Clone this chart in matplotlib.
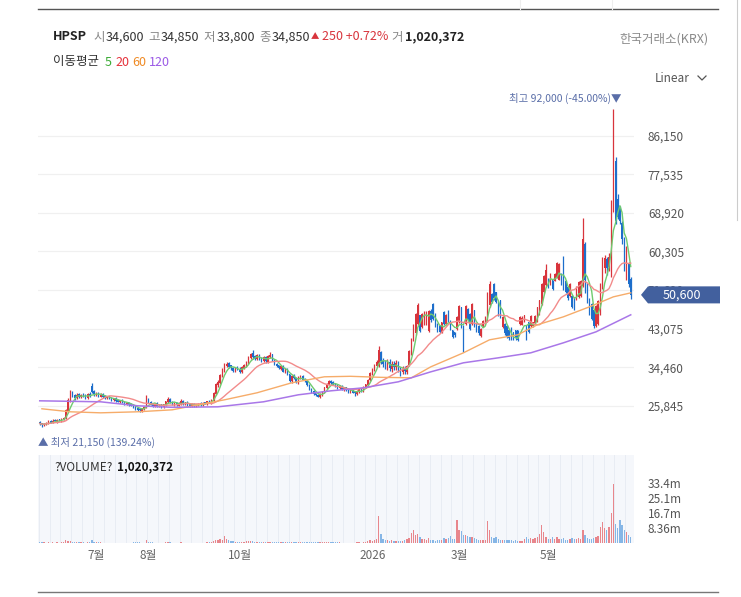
import numpy as np
import pandas as pd
import matplotlib
matplotlib.use("Agg")
import matplotlib.pyplot as plt
from matplotlib.patches import Polygon
from matplotlib.lines import Line2D
from matplotlib.transforms import blended_transform_factory

plt.rcParams['font.family'] = ['Noto Sans CJK KR', 'DejaVu Sans']

# daily candles, prices in thousand won
opens = [22.2, 21.9, 21.5, 21.8, 22.0, 22.4, 22.1, 22.6, 22.3, 22.8, 22.5, 22.8,
         23.1, 24.6, 27.0,
         28.8, 28.1, 27.5, 28.4, 27.8, 28.3, 28.1, 27.6, 28.5,
         30.2,
         29.1, 28.2, 28.7, 27.9, 28.4, 28.0, 27.5,
         27.9, 27.6, 27.1, 27.5, 27.1, 26.7, 27.1, 26.7, 26.2, 26.6, 26.2, 26.0, 25.7, 25.4,
         25.1, 24.7, 25.1,
         25.6,
         27.3, 26.7, 26.3, 25.8, 26.4, 25.7, 26.1,
         25.6, 26.0, 26.7, 27.4,
         26.7, 26.1, 26.6, 25.9, 26.3, 26.9, 26.2, 26.7, 26.2, 25.8,
         26.3, 25.7, 25.9, 26.4, 26.0, 26.6, 26.3, 26.9, 26.5,
         27.0, 28.5, 30.4, 31.0, 32.4, 33.6, 34.7,
         35.3, 34.8, 34.3, 33.6, 34.5, 34.1, 33.4, 34.2,
         34.7, 35.4, 36.5, 37.5,
         36.8, 36.2, 37.2, 36.4, 35.9, 36.7, 35.7, 36.8, 37.3,
         36.0, 35.2, 34.8, 34.1, 34.7, 33.4, 34.0, 32.8, 31.3, 32.6, 32.1,
         31.0, 32.0, 32.5, 31.8, 31.4, 30.5, 29.6, 29.1,
         28.6, 28.3, 27.8, 28.3, 28.8, 29.8, 30.6, 31.4, 31.1, 30.8,
         30.4, 29.8, 30.3, 29.4, 29.9, 29.4, 28.9, 29.5, 28.9, 28.5, 29.0, 29.7, 29.1,
         30.0, 30.5, 31.5, 33.0, 33.9, 34.8, 34.8,
         37.9, 35.9, 35.2, 34.5, 35.6, 34.1, 35.2, 34.4, 35.4, 34.1, 33.4, 34.2, 33.5,
         35.0, 37.5, 40.5, 42.0, 44.2, 46.0, 43.4, 44.1, 44.0, 42.6,
         47.0, 48.5, 46.3, 44.1, 43.7, 42.3, 46.7, 44.2, 47.0, 44.6,
         42.6, 42.2, 43.0, 44.5, 47.8, 43.7, 44.1, 47.4, 46.3, 44.1,
         47.1, 44.1, 43.7, 41.5, 43.6, 44.0, 44.8, 48.3, 50.8, 53.0,
         51.1, 48.9, 49.3, 43.4, 44.1, 43.7, 42.6, 43.2, 42.2, 42.6,
         42.6, 44.0, 43.9, 44.7, 43.8, 44.4, 43.7, 43.6, 44.4, 44.8,
         46.3, 48.6, 51.2, 52.7, 54.2, 53.0, 53.8, 53.7, 54.5, 54.0,
         55.3, 57.5, 53.7, 52.3, 50.4, 50.4, 50.0, 49.7, 50.1, 50.4,
         52.5, 62.0, 53.0, 49.7, 48.6, 47.1, 43.7, 44.1, 46.3, 52.5,
         56.5, 58.5, 56.8, 57.5, 70.0, 80.5, 72.0, 70.0, 66.5, 63.0,
         55.0, 57.5, 54.0]

highs = [22.5, 22.1, 22.0, 22.3, 22.6, 22.6, 22.8, 22.8, 22.9, 23.0, 23.1, 23.3,
         25.2, 27.6, 29.4,
         29.1, 28.5, 28.6, 28.7, 28.5, 28.6, 28.4, 28.8, 28.9,
         31.0,
         29.4, 28.9, 28.9, 28.6, 28.6, 28.2, 28.1,
         28.1, 27.8, 27.6, 27.7, 27.3, 27.2, 27.3, 26.9, 26.7, 26.8, 26.4, 26.2, 25.9, 25.6,
         25.3, 25.4, 25.7,
         28.3,
         27.6, 26.9, 26.5, 26.5, 26.6, 26.2, 26.3,
         26.3, 27.0, 27.9, 27.6,
         26.9, 26.7, 26.8, 26.6, 27.4, 27.1, 26.8, 26.9, 26.4, 26.4,
         26.5, 26.2, 26.5, 26.6, 26.7, 26.8, 27.0, 27.1, 27.3,
         28.9, 31.0, 31.6, 33.0, 34.3, 35.4, 35.7,
         35.6, 35.0, 34.6, 34.6, 34.8, 34.4, 34.7, 35.1,
         35.9, 37.0, 37.7, 38.3,
         37.1, 37.4, 37.5, 36.7, 36.9, 36.9, 37.2, 37.9, 37.5,
         36.2, 35.4, 35.0, 34.9, 34.9, 34.2, 34.2, 33.0, 32.8, 32.9, 32.3,
         32.4, 32.8, 32.7, 32.0, 31.6, 30.7, 29.9, 29.3,
         28.8, 28.5, 28.6, 29.1, 30.1, 30.9, 31.6, 31.7, 31.3, 30.9,
         30.6, 30.4, 30.5, 30.0, 30.1, 29.6, 29.6, 29.7, 29.1, 29.3, 29.8, 29.9, 30.3,
         30.8, 31.9, 33.4, 34.3, 35.2, 36.0, 39.1,
         38.0, 36.6, 36.0, 36.4, 36.2, 35.8, 35.8, 36.0, 35.9, 34.6, 34.7, 34.8, 35.0,
         38.3, 41.0, 44.0, 46.6, 48.8, 46.2, 46.5, 46.9, 46.9, 47.3,
         47.5, 48.8, 46.5, 44.3, 43.9, 44.6, 46.9, 46.4, 47.3, 45.0,
         42.8, 42.4, 45.8, 48.4, 48.0, 43.9, 48.4, 47.6, 46.5, 48.8,
         47.3, 44.3, 43.9, 43.2, 45.0, 45.8, 51.3, 53.6, 51.0, 53.2,
         51.3, 49.1, 49.5, 45.8, 44.3, 43.9, 42.8, 43.4, 42.4, 42.8,
         42.8, 45.8, 45.8, 46.1, 43.9, 44.6, 46.1, 44.6, 46.1, 48.0,
         49.5, 53.2, 55.0, 57.6, 54.3, 55.4, 53.9, 55.4, 58.0, 57.7,
         55.4, 59.2, 53.9, 52.5, 53.2, 50.6, 50.2, 52.5, 53.6, 53.9,
         67.8, 62.5, 53.2, 49.9, 48.8, 47.3, 48.4, 49.5, 53.2, 59.1,
         59.5, 59.0, 60.0, 71.8, 92.0, 81.4, 73.0, 70.5, 67.0, 63.5,
         61.5, 58.0, 54.5]

lows = [21.6, 21.15, 21.3, 21.6, 21.8, 21.9, 21.9, 22.2, 22.1, 22.4, 22.3, 22.6,
        22.9, 24.4, 26.6,
        27.7, 27.2, 27.3, 27.6, 27.5, 27.7, 27.3, 27.4, 27.8,
        28.7,
        28.1, 28.0, 27.8, 27.7, 27.6, 27.3, 27.3,
        27.3, 27.0, 26.9, 26.8, 26.6, 26.5, 26.4, 26.1, 26.0, 25.9, 25.7, 25.4, 25.0, 24.7,
        24.5, 24.5, 24.9,
        25.4,
        26.4, 26.0, 25.6, 25.6, 25.6, 25.5, 25.4,
        25.4, 25.8, 26.5, 26.4,
        26.0, 25.9, 25.8, 25.7, 26.1, 26.1, 26.0, 25.9, 25.6, 25.6,
        25.6, 25.5, 25.7, 25.9, 25.8, 26.2, 26.1, 26.4, 26.3,
        26.8, 28.3, 30.0, 30.8, 32.2, 33.4, 34.4,
        34.3, 33.9, 33.4, 33.4, 33.8, 33.2, 33.2, 34.0,
        34.5, 35.2, 36.3, 36.4,
        36.1, 36.0, 36.1, 35.7, 35.7, 35.5, 35.5, 36.6, 35.9,
        34.9, 34.5, 34.0, 33.9, 33.3, 33.2, 32.7, 31.2, 31.0, 31.8, 30.9,
        30.8, 31.8, 31.5, 31.1, 30.2, 29.3, 28.8, 28.2,
        28.0, 27.7, 27.6, 28.1, 28.6, 29.6, 30.4, 30.8, 30.5, 30.1,
        29.7, 29.6, 29.3, 29.2, 29.1, 28.8, 28.7, 28.6, 28.0, 28.3, 28.8, 29.0, 28.9,
        29.8, 30.3, 31.3, 32.8, 33.7, 34.6, 34.6,
        35.2, 34.5, 34.0, 33.9, 33.7, 33.5, 33.9, 33.8, 33.4, 32.6, 32.9, 33.0, 33.0,
        34.8, 37.2, 40.2, 41.7, 43.9, 42.4, 43.2, 43.9, 43.8, 42.4,
        44.6, 45.0, 43.5, 42.4, 42.1, 42.1, 43.9, 43.9, 44.6, 42.8,
        41.0, 41.3, 42.8, 44.3, 43.2, 37.9, 43.9, 45.0, 42.8, 43.9,
        43.5, 42.4, 41.7, 41.3, 43.5, 43.9, 44.6, 48.0, 48.8, 49.5,
        48.8, 45.8, 45.4, 43.2, 41.7, 41.0, 40.6, 40.6, 40.6, 40.6,
        40.2, 43.9, 43.8, 44.6, 40.6, 42.1, 43.5, 43.5, 44.3, 44.6,
        46.1, 48.4, 51.0, 52.5, 52.1, 52.8, 51.7, 53.6, 54.3, 53.9,
        52.8, 51.7, 51.0, 49.5, 50.2, 47.6, 47.3, 49.5, 49.9, 50.2,
        52.3, 51.0, 48.8, 46.1, 45.0, 43.2, 43.5, 43.9, 46.1, 52.0,
        55.5, 55.0, 56.0, 54.6, 69.0, 66.5, 67.5, 66.5, 62.0, 56.0,
        54.0, 52.4, 49.6]

closes = [21.9, 21.6, 21.8, 22.0, 22.3, 22.1, 22.5, 22.4, 22.7, 22.6, 22.9, 23.0,
          24.8, 27.2, 28.6,
          28.0, 27.6, 28.3, 27.9, 28.2, 28.0, 27.7, 28.4, 28.1,
          29.0,
          28.4, 28.6, 28.0, 28.3, 27.9, 27.6, 27.8,
          27.5, 27.2, 27.4, 27.0, 26.8, 27.0, 26.6, 26.3, 26.5, 26.1, 25.9, 25.6, 25.3, 25.0,
          24.8, 25.2, 25.5,
          27.4,
          26.6, 26.2, 25.9, 26.3, 25.8, 26.0, 25.7,
          26.1, 26.8, 27.3, 26.6,
          26.2, 26.5, 26.0, 26.4, 26.8, 26.3, 26.6, 26.1, 25.9, 26.2,
          25.8, 26.0, 26.3, 26.1, 26.5, 26.4, 26.8, 26.6, 27.1,
          28.6, 30.6, 31.2, 32.6, 33.8, 34.9, 35.2,
          34.6, 34.2, 33.7, 34.3, 34.0, 33.5, 34.4, 34.8,
          35.6, 36.6, 37.3, 36.7,
          36.4, 37.1, 36.3, 36.0, 36.6, 35.8, 36.9, 37.2, 36.1,
          35.1, 34.7, 34.2, 34.6, 33.5, 33.9, 32.9, 31.4, 32.5, 32.0, 31.1,
          32.1, 32.4, 31.7, 31.3, 30.4, 29.5, 29.0, 28.5,
          28.2, 27.9, 28.4, 28.9, 29.9, 30.7, 31.3, 31.0, 30.7, 30.3,
          29.9, 30.2, 29.5, 29.8, 29.3, 29.0, 29.4, 28.8, 28.6, 29.1, 29.6, 29.2, 30.1,
          30.6, 31.6, 33.1, 34.0, 34.9, 35.6, 38.2,
          35.8, 35.1, 34.6, 35.5, 34.2, 35.1, 34.5, 35.3, 34.0, 33.5, 34.1, 33.6, 34.6,
          38.0, 40.5, 43.5, 46.3, 48.4, 42.6, 46.3, 46.7, 46.6, 47.0,
          45.0, 45.3, 43.8, 42.6, 42.3, 44.4, 44.1, 46.0, 44.8, 43.0,
          41.3, 41.6, 45.6, 48.0, 43.5, 41.0, 48.0, 45.2, 43.0, 48.5,
          43.8, 42.6, 42.0, 43.0, 44.8, 45.6, 51.0, 53.0, 49.0, 49.8,
          49.0, 46.0, 45.6, 45.6, 42.0, 41.3, 40.9, 41.0, 40.9, 41.0,
          40.6, 45.6, 45.5, 46.0, 41.0, 42.3, 45.9, 44.5, 45.9, 47.8,
          49.3, 52.9, 54.7, 56.0, 52.3, 55.2, 51.9, 55.2, 57.7, 57.4,
          53.0, 52.0, 51.2, 49.8, 53.0, 47.8, 47.5, 52.3, 53.4, 53.7,
          63.0, 54.0, 49.0, 46.3, 45.2, 43.6, 48.0, 49.2, 52.9, 57.0,
          58.8, 56.5, 59.0, 70.5, 80.0, 67.0, 68.0, 67.0, 63.0, 57.0,
          61.0, 53.0, 50.6]

# volume in millions of shares
volumes = [0.3, 0.4, 0.3, 0.2, 0.3, 0.2, 0.3, 0.2, 0.3, 0.2, 0.4, 0.3,
           1.8, 1.2, 0.9,
           0.6, 0.4, 0.4, 0.3, 0.3, 0.3, 0.2, 0.3, 0.3,
           1.5,
           0.6, 0.4, 0.3, 0.3, 0.2, 0.2, 0.2,
           0.2, 0.2, 0.2, 0.2, 0.2, 0.2, 0.2, 0.2, 0.2, 0.2, 0.2, 0.3, 0.3, 0.3,
           0.3, 0.2, 0.2,
           1.8,
           0.5, 0.3, 0.3, 0.2, 0.2, 0.2, 0.2,
           0.2, 0.3, 0.5, 0.3,
           0.2, 0.2, 0.2, 0.2, 0.4, 0.2, 0.2, 0.2, 0.2, 0.2,
           0.2, 0.2, 0.2, 0.2, 0.2, 0.2, 0.3, 0.3, 0.5,
           1.2, 1.6, 1.4, 2.0, 1.8, 3.7, 2.2,
           1.4, 1.0, 1.0, 0.8, 0.7, 0.6, 0.8, 0.7,
           1.0, 1.3, 1.2, 1.1,
           0.8, 0.8, 0.6, 0.5, 0.6, 0.5, 0.6, 0.7, 0.5,
           0.5, 0.4, 0.4, 0.4, 0.5, 0.4, 0.5, 0.8, 0.6, 0.4, 0.5,
           0.5, 0.4, 0.3, 0.3, 0.4, 0.4, 0.3, 0.3,
           0.3, 0.3, 0.3, 0.3, 0.4, 0.5, 0.4, 0.3, 0.3, 0.3,
           0.3, 0.3, 0.2, 0.2, 0.2, 0.2, 0.2, 0.2, 0.2, 0.3, 0.3, 0.2, 0.4,
           0.6, 1.0, 1.5, 1.3, 1.6, 2.2, 14.9,
           5.0, 2.5, 1.6, 1.8, 1.2, 1.4, 1.0, 1.2, 1.1, 1.0, 1.3, 1.5, 2.0,
           3.0, 5.5, 7.4, 4.3, 4.8, 3.5, 2.2, 2.0, 1.8, 3.0,
           1.6, 1.4, 1.3, 1.5, 1.4, 1.8, 3.0, 2.0, 2.6, 4.0,
           2.5, 2.0, 13.0, 7.0, 6.5, 4.5, 4.3, 4.0, 3.5, 3.2,
           2.8, 2.0, 1.5, 1.4, 1.6, 1.5, 12.1, 7.4, 3.3, 2.6,
           3.3, 2.2, 1.8, 1.5, 1.6, 1.4, 1.5, 1.4, 1.2, 1.4,
           1.2, 1.1, 1.3, 2.5, 3.3, 2.0, 2.6, 2.2, 3.0, 3.5,
           5.0, 9.8, 6.1, 3.3, 2.5, 2.0, 3.3, 2.2, 3.3, 2.5,
           2.0, 3.0, 1.8, 1.6, 2.2, 2.8, 2.2, 2.0, 2.6, 2.4,
           7.4, 4.3, 2.8, 2.5, 2.0, 3.0, 3.2, 4.0, 8.9, 11.7,
           8.1, 7.0, 9.0, 16.7, 33.1, 10.8, 8.5, 12.6, 9.8, 7.1,
           6.0, 4.3, 3.3]

# 60 and 120 day moving averages (they need history before the window)
ma60_idx = [1, 14, 28, 45, 61, 73, 85, 100, 116, 131, 143, 157, 171, 180, 195, 207, 220, 229, 241, 253, 264, 272]
ma60_val = [25.18, 24.51, 24.28, 24.51, 24.95, 26.07, 27.18, 28.75, 30.98, 32.32, 32.43, 32.2, 32.09,
            34.55, 37.67, 40.57, 41.69, 43.92, 45.7, 47.93, 50.16, 51.05]
ma120_idx = [0, 28, 45, 61, 82, 103, 119, 134, 149, 165, 180, 195, 211, 226, 241, 256, 272]
ma120_val = [26.96, 26.74, 25.85, 25.51, 25.62, 26.74, 28.3, 29.19, 29.86, 31.2, 33.43, 35.44,
             36.55, 37.67, 39.9, 42.35, 46.15]

price_ticks = [25845, 34460, 43075, 51690, 60305, 68920, 77535, 86150]
vol_ticks = [8.36, 16.72, 25.08, 33.44]
vol_tick_labels = ['8.36m', '16.7m', '25.1m', '33.4m']
month_pos = [26, 50, 92, 153, 193, 234]
month_labels = ['7월', '8월', '10월', '2026', '3월', '5월']

RED = '#d8343c'
BLUE = '#1d6ecb'

W, H = 741, 597
def fx(px):
    return px / W
def fy(py):
    return 1 - py / H

fig = plt.figure(figsize=(W / 100, H / 100), dpi=100)
ax = fig.add_axes([fx(38), fy(445), (634 - 38) / W, (445 - 95) / H])
axv = fig.add_axes([fx(38), fy(543), (634 - 38) / W, (543 - 455) / H])

o = np.array(opens)
h = np.array(highs)
l = np.array(lows)
c = np.array(closes)
v = np.array(volumes)
x = np.arange(len(c))
up = c >= o
cols = np.where(up, RED, BLUE)

# price panel
for t in price_ticks:
    ax.axhline(t / 1000, color='#f0f0f0', lw=0.9, zorder=0)
ax.vlines(x, l, h, colors=cols, lw=0.9, zorder=2)
ax.bar(x, np.abs(c - o) + 0.05, bottom=np.minimum(o, c), width=0.6, color=cols, lw=0, zorder=2)

s = pd.Series(c)
ax.plot(x, s.rolling(5, min_periods=1).mean(), color='#6fcb6f', lw=1.0, zorder=3)
ax.plot(x, s.rolling(20, min_periods=1).mean(), color='#f28b8b', lw=1.0, zorder=3)
ax.plot(ma60_idx, ma60_val, color='#f6ac6a', lw=1.0, zorder=3)
ax.plot(ma120_idx, ma120_val, color='#a977e8', lw=1.1, zorder=3)

ax.set_xlim(-0.8, 273.5)
ax.set_ylim(17.1, 95.2)
ax.set_yticks([t / 1000 for t in price_ticks])
ax.set_yticklabels([f'{t:,}' for t in price_ticks])
ax.yaxis.tick_right()
ax.tick_params(axis='y', length=0, pad=10, labelsize=8.5, labelcolor='#555555')
ax.set_xticks([])
for sp in ax.spines.values():
    sp.set_visible(False)

# high / low notes
imax = int(np.argmax(h))
imin = int(np.argmin(l))
ax.annotate('최고 92,000 (-45.00%)▼', xy=(imax, h[imax]), xytext=(6, 4), textcoords='offset points',
            ha='right', va='bottom', fontsize=7.5, color='#5a6ea8')
ax.annotate('▲ 최저 21,150 (139.24%)', xy=(imin, l[imin]), xytext=(-3, -7), textcoords='offset points',
            ha='left', va='top', fontsize=7.5, color='#5a6ea8')

# last price tag
tr = blended_transform_factory(fig.transFigure, ax.transData)
last = c[-1]
hh = 1.9
tag = Polygon([(fx(641), last), (fx(648), last + hh), (fx(720), last + hh), (fx(720), last - hh), (fx(648), last - hh)],
              closed=True, transform=tr, facecolor='#42609e', edgecolor='none', clip_on=False, zorder=5)
ax.add_patch(tag)
ax.text(fx(682), last, f'{int(last * 1000):,}', transform=tr, ha='center', va='center', color='white', fontsize=9, zorder=6)

# volume panel
axv.set_facecolor('#f5f7fb')
for k in range(0, len(c) + 5, 5):
    axv.axvline(k - 0.5, color='#e8ecf3', lw=0.7, zorder=0)
vcols = np.where(up, '#e8868c', '#86b6e6')
axv.bar(x, v, width=0.6, color=vcols, lw=0, zorder=2)
axv.set_xlim(-0.8, 273.5)
axv.set_ylim(0, 49)
axv.set_yticks(vol_ticks)
axv.set_yticklabels(vol_tick_labels)
axv.yaxis.tick_right()
axv.tick_params(axis='y', length=0, pad=10, labelsize=8.5, labelcolor='#555555')
axv.set_xticks(month_pos)
axv.set_xticklabels(month_labels)
axv.tick_params(axis='x', length=0, pad=4, labelsize=8.5, labelcolor='#666666')
for sp in axv.spines.values():
    sp.set_visible(False)
axv.text(0.027, 0.86, '?VOLUME?', transform=axv.transAxes, fontsize=8.5, color='#333333', va='center')
axv.text(0.133, 0.86, '1,020,372', transform=axv.transAxes, fontsize=8.5, color='#111111', va='center', fontweight='bold')

# header
hy = fy(37)
fig.text(fx(53), hy, 'HPSP', fontsize=9, fontweight='bold', color='#222222', va='center')
pieces = [(93, '시', '#888888'), (106, '34,600', '#333333'), (148, '고', '#888888'), (161, '34,850', '#333333'),
          (203, '저', '#888888'), (217, '33,800', '#333333'), (259, '종', '#888888'), (272, '34,850', '#333333'),
          (311, '▲', RED), (322, '250 +0.72%', RED), (391, '거', '#888888')]
for px, txt, col in pieces:
    fs = 6 if txt == '▲' else 9
    fig.text(fx(px), hy, txt, fontsize=fs, color=col, va='center')
fig.text(fx(405), hy, '1,020,372', fontsize=9, color='#222222', va='center', fontweight='bold')
fig.text(fx(709), fy(39), '한국거래소(KRX)', fontsize=9, color='#8a8a8a', va='center', ha='right')

my = fy(62)
fig.text(fx(53), my, '이동평균', fontsize=9, color='#333333', va='center')
for px, txt, col in [(105, '5', '#3aaa35'), (115, '20', '#e5323b'), (132, '60', '#ef8a24'), (149, '120', '#9b5ae6')]:
    fig.text(fx(px), my, txt, fontsize=9, color=col, va='center')

fig.text(fx(690), fy(78), 'Linear', fontsize=8.5, color='#555555', va='center', ha='right')
fig.add_artist(Line2D([fx(698), fx(702), fx(706)], [fy(76), fy(80), fy(76)], color='#555555', lw=0.9))

# frame lines
fig.add_artist(Line2D([fx(38), fx(718)], [fy(9), fy(9)], color='#555555', lw=1.0))
fig.add_artist(Line2D([fx(38), fx(718)], [fy(592), fy(592)], color='#777777', lw=1.0))
fig.add_artist(Line2D([fx(520), fx(520)], [fy(0), fy(9)], color='#eeeeee', lw=0.8))
fig.add_artist(Line2D([fx(612), fx(612)], [fy(0), fy(9)], color='#eeeeee', lw=0.8))
fig.add_artist(Line2D([fx(737), fx(737)], [fy(0), fy(220)], color='#cccccc', lw=0.8))

fig.savefig('out.png', dpi=100)
